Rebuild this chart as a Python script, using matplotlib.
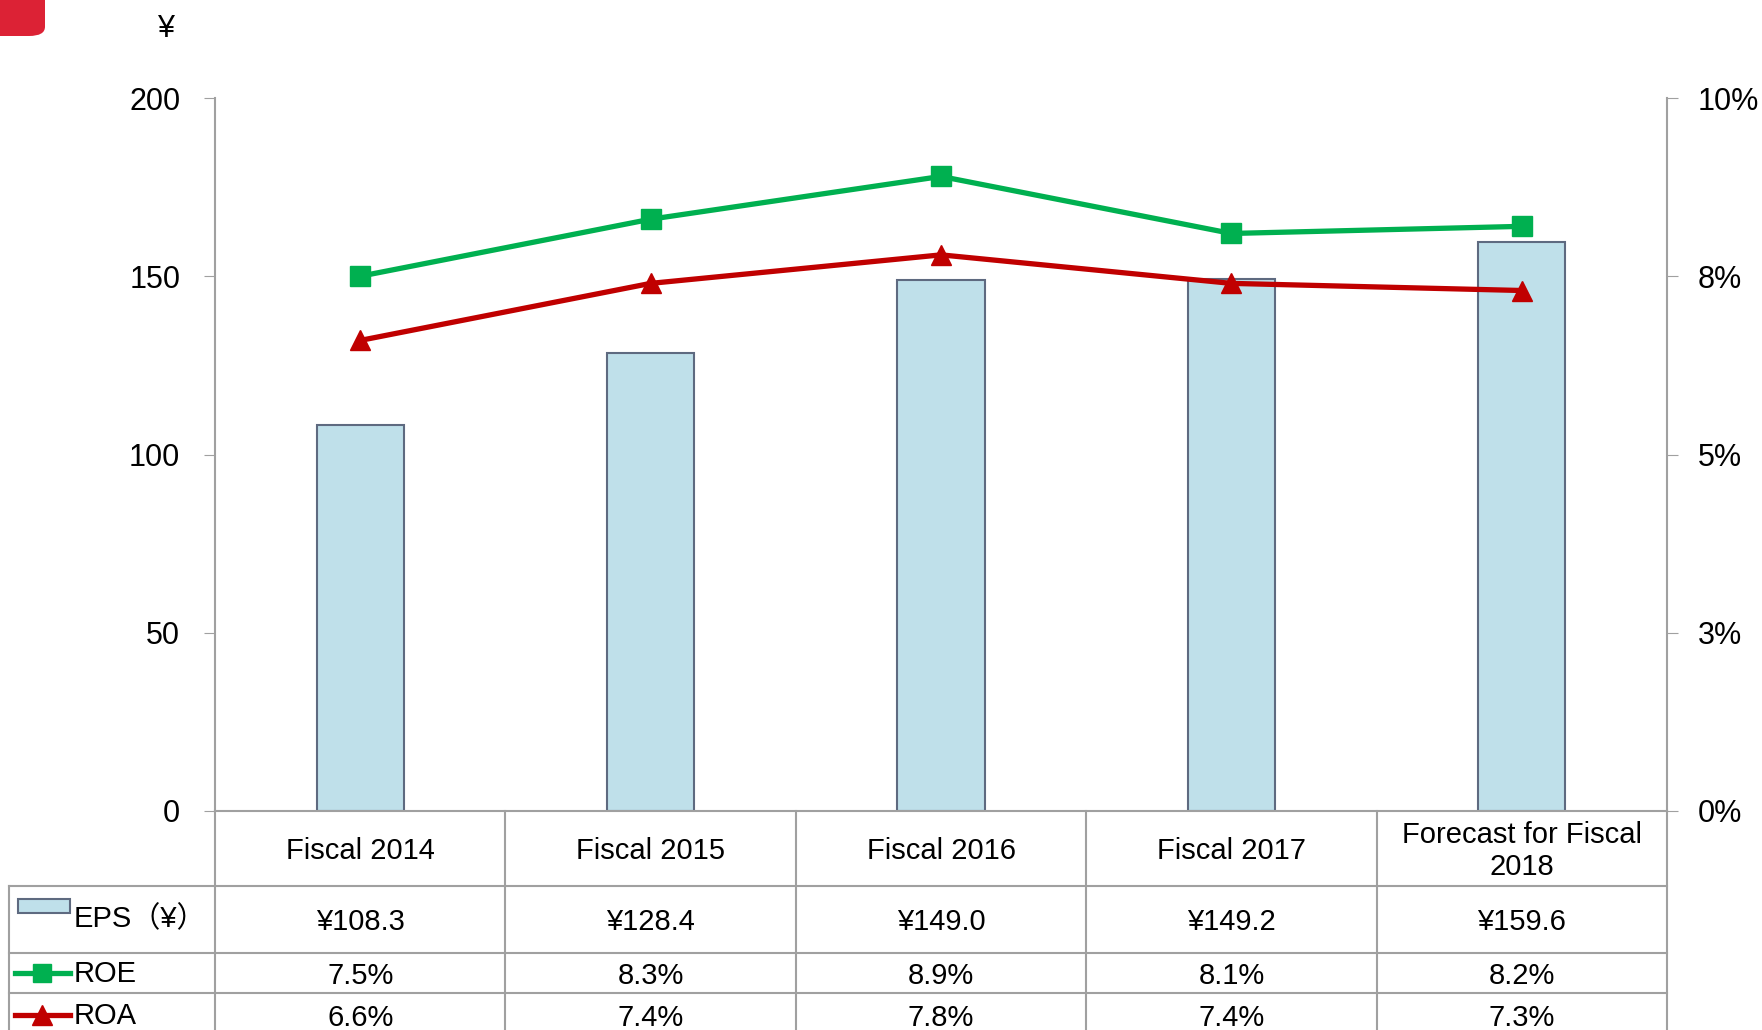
import numpy as np
import matplotlib.pyplot as plt
from matplotlib.patches import FancyBboxPatch, Rectangle
from matplotlib.lines import Line2D

plt.rcParams['font.family'] = ['Liberation Sans', 'Noto Sans CJK JP', 'DejaVu Sans']

# Données
categories = ['Fiscal 2014', 'Fiscal 2015', 'Fiscal 2016', 'Fiscal 2017', 'Forecast for Fiscal\n2018']
eps = [108.3, 128.4, 149.0, 149.2, 159.6]
roe = [7.5, 8.3, 8.9, 8.1, 8.2]
roa = [6.6, 7.4, 7.8, 7.4, 7.3]
left_ticks = [0, 50, 100, 150, 200]
right_ticks = [0, 2.5, 5, 7.5, 10]
right_labels = ['0%', '3%', '5%', '8%', '10%']

# Couleurs
c_bar = '#BFE0EA'
c_edge = '#5E6A80'
c_roe = '#00B050'
c_roa = '#C00000'
c_grid = '#A0A0A0'

W, H = 1762, 1030
fig = plt.figure(figsize=(W / 100, H / 100), dpi=100)

# zone du graphique (en pixels)
x0, x1 = 215, 1667
y_top, y_zero = 98, 811
ax = fig.add_axes([x0 / W, (H - y_zero) / H, (x1 - x0) / W, (y_zero - y_top) / H])

x = np.arange(len(categories))
ax.bar(x, eps, width=0.3, color=c_bar, edgecolor=c_edge, linewidth=1.5, zorder=2)
ax.set_xlim(-0.5, len(categories) - 0.5)
ax.set_ylim(0, 200)
ax.set_yticks(left_ticks)
ax.set_xticks([])
ax.tick_params(axis='y', labelsize=22, length=8, color=c_grid, pad=17)
for s in ['top', 'right']:
    ax.spines[s].set_visible(False)
for s in ['left', 'bottom']:
    ax.spines[s].set_color(c_grid)
    ax.spines[s].set_linewidth(1.5)

ax2 = ax.twinx()
ax2.plot(x, roe, color=c_roe, linewidth=3.8, marker='s', markersize=14, zorder=3)
ax2.plot(x, roa, color=c_roa, linewidth=3.8, marker='^', markersize=15, zorder=3)
ax2.set_ylim(0, 10)
ax2.set_yticks(right_ticks)
ax2.set_yticklabels(right_labels)
ax2.tick_params(axis='y', labelsize=22, length=8, color=c_grid, pad=14)
for s in ['top', 'left', 'bottom']:
    ax2.spines[s].set_visible(False)
ax2.spines['right'].set_color(c_grid)
ax2.spines['right'].set_linewidth(1.5)


# Tableau de données sous le graphique
def fy(py):
    return (H - py) / H


def fx(px):
    return px / W


trans = ax.get_xaxis_transform()
ah = y_zero - y_top


def ay(py):
    return (y_zero - py) / ah


# lignes horizontales
for py in [886, 953, 993]:
    fig.add_artist(Line2D([fx(9), fx(x1)], [fy(py), fy(py)], color=c_grid, lw=1.5))
fig.add_artist(Line2D([fx(9), fx(9)], [fy(886), fy(1040)], color=c_grid, lw=1.5))
# lignes verticales
for b in np.arange(len(categories) + 1) - 0.5:
    ax.plot([b, b], [0, ay(1040)], transform=trans, color=c_grid, lw=1.5, clip_on=False)

eps_txt = ['¥%.1f' % v for v in eps]
roe_txt = ['%.1f%%' % v for v in roe]
roa_txt = ['%.1f%%' % v for v in roa]
for i in x:
    ax.text(i, ay(851), categories[i], transform=trans, ha='center', va='center', fontsize=21)
    ax.text(i, ay(922), eps_txt[i], transform=trans, ha='center', va='center', fontsize=21)
    ax.text(i, ay(976), roe_txt[i], transform=trans, ha='center', va='center', fontsize=21)
    ax.text(i, ay(1018), roa_txt[i], transform=trans, ha='center', va='center', fontsize=21)

# légende dans la première colonne
fig.add_artist(Rectangle((fx(18), fy(913)), fx(70) - fx(18), fy(899) - fy(913),
                         facecolor=c_bar, edgecolor=c_edge, lw=1.5))
fig.text(fx(74), fy(919), 'EPS（¥）', ha='left', va='center', fontsize=21)
fig.add_artist(Line2D([fx(15), fx(42), fx(70)], [fy(973)] * 3, color=c_roe, lw=3.8,
                      marker='s', markersize=13, markevery=[1]))
fig.add_artist(Line2D([fx(15), fx(42), fx(70)], [fy(1015)] * 3, color=c_roa, lw=3.8,
                      marker='^', markersize=14, markevery=[1]))
fig.text(fx(74), fy(974), 'ROE', ha='left', va='center', fontsize=21)
fig.text(fx(74), fy(1016), 'ROA', ha='left', va='center', fontsize=21)

# unité et pastille rouge
fig.text(fx(167), fy(29), '¥', ha='center', va='center', fontsize=22)
fig.add_artist(FancyBboxPatch((fx(-40), fy(36)), fx(85), fy(-40) - fy(36),
                              boxstyle='round,pad=0,rounding_size=0.009',
                              facecolor='#DC2235', edgecolor='none'))

fig.savefig('out.png', dpi=100)
